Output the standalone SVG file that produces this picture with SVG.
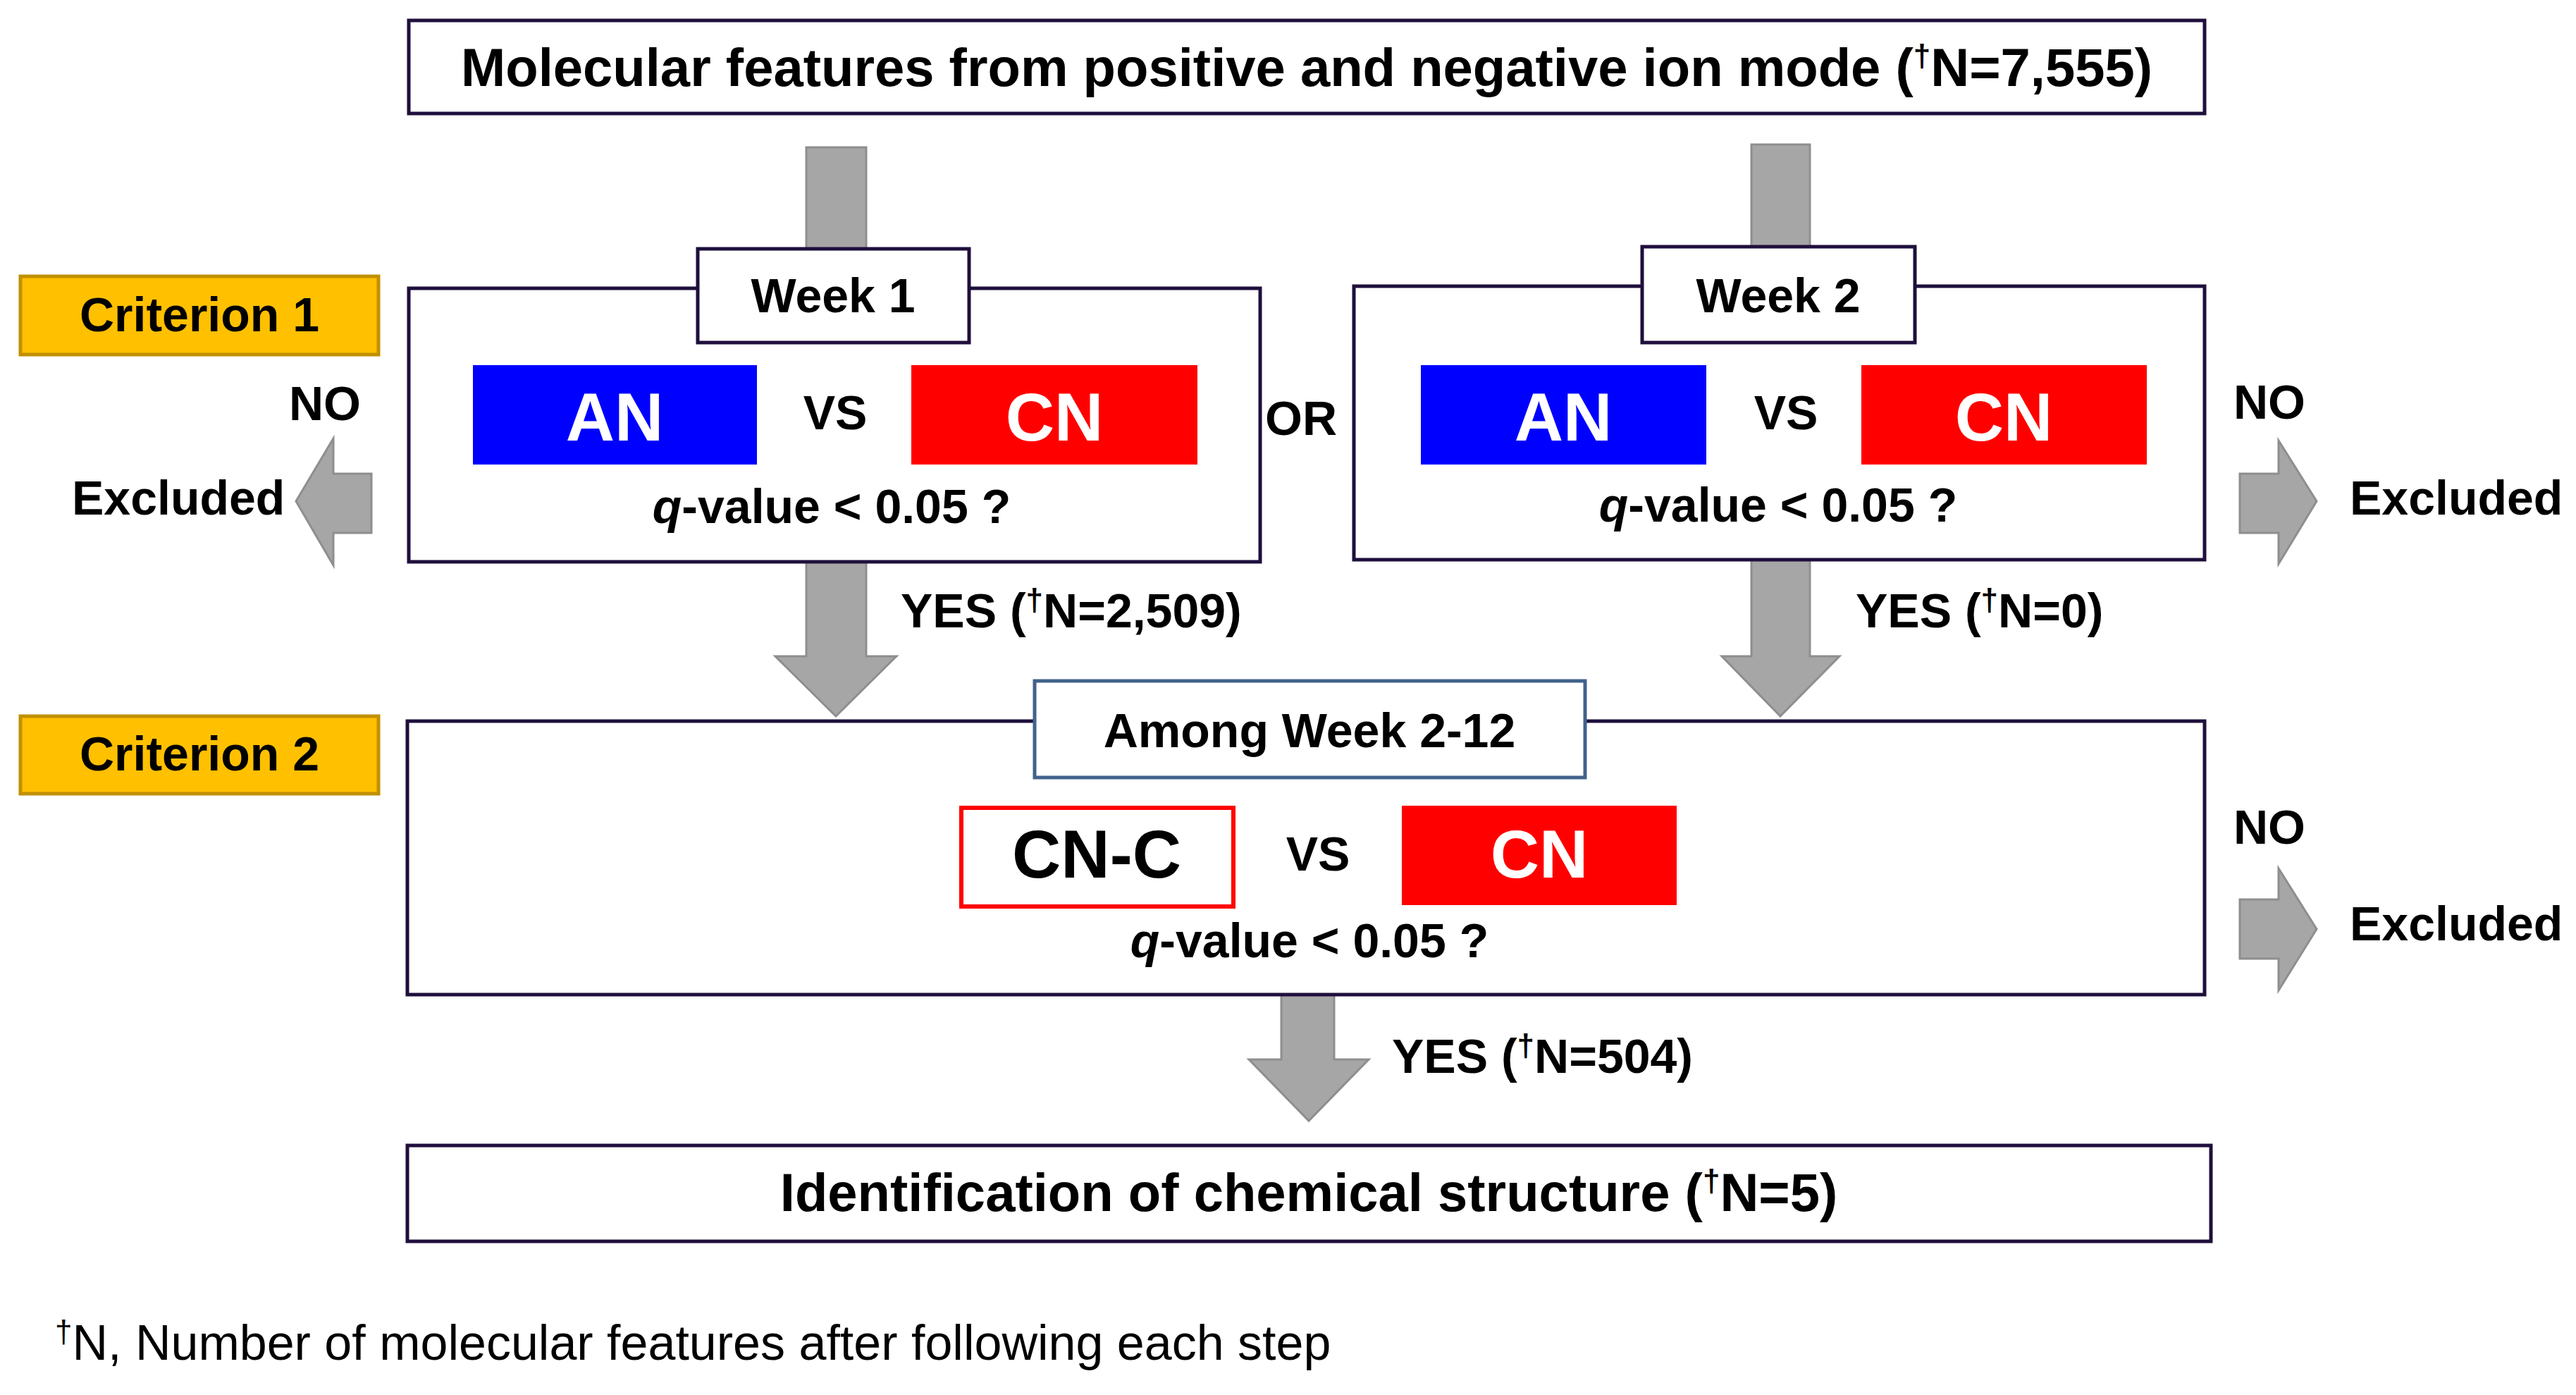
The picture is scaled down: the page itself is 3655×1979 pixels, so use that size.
<svg xmlns="http://www.w3.org/2000/svg" width="3655" height="1979" viewBox="0 0 3655 1979">
<style>
text{font-family:"Liberation Sans",Arial,sans-serif;font-weight:bold;fill:#000}
.box{fill:#fff;stroke:#1e0f3c;stroke-width:5}
.crit{fill:#FFC000;stroke:#C09000;stroke-width:5}
.arr{fill:#A6A6A6;stroke:#8E8E8E;stroke-width:3}
.t76{font-size:76px}
.t68{font-size:68px}
.big{font-size:96px}
.mid{text-anchor:middle}
.w{fill:#fff}
.sup{font-size:44px}
text.norm,text.norm tspan{font-weight:normal}
</style>
<rect width="3655" height="1979" fill="#fff"/>

<g id="connectors">
  <rect class="arr" x="1144" y="209" width="85" height="150"/>
  <rect class="arr" x="2485" y="205" width="83" height="150"/>
  <polygon class="arr" points="1144,790 1229,790 1229,931 1272,931 1186,1016 1100,931 1144,931"/>
  <polygon class="arr" points="2485,790 2568,790 2568,931 2610,931 2526,1016 2443,931 2485,931"/>
  <polygon class="arr" points="1818,1405 1893,1405 1893,1503 1942,1503 1857,1590 1772,1503 1818,1503"/>
  <polygon class="arr" points="527,672 473,672 473,622 420,711 473,802 473,756 527,756"/>
  <polygon class="arr" points="3178,672 3233,672 3233,625 3287,711 3233,800 3233,756 3178,756"/>
  <polygon class="arr" points="3178,1276 3233,1276 3233,1232 3287,1318 3233,1405 3233,1360 3178,1360"/>
  <text class="t68" x="1278" y="890">YES (<tspan class="sup" dy="-24">†</tspan><tspan dy="24">N=2,509)</tspan></text>
  <text class="t68" x="2633" y="890">YES (<tspan class="sup" dy="-24">†</tspan><tspan dy="24">N=0)</tspan></text>
  <text class="t68" x="1975" y="1522">YES (<tspan class="sup" dy="-24">†</tspan><tspan dy="24">N=504)</tspan></text>
  <text class="t68" x="410" y="596">NO</text>
  <text class="t68" x="102" y="730">Excluded</text>
  <text class="t68" x="3169" y="594">NO</text>
  <text class="t68" x="3334" y="730">Excluded</text>
  <text class="t68" x="3169" y="1197">NO</text>
  <text class="t68" x="3334" y="1334">Excluded</text>
  <text class="t68" x="1795" y="617">OR</text>
</g>

<g id="top">
  <rect class="box" x="580" y="29" width="2548" height="132"/>
  <text class="t76 mid" x="1854" y="122">Molecular features from positive and negative ion mode (<tspan class="sup" dy="-28">†</tspan><tspan dy="28">N=7,555)</tspan></text>
</g>

<g id="criterion1">
  <rect class="crit" x="29" y="392" width="508" height="111"/>
  <text class="t68 mid" x="283" y="470">Criterion 1</text>
</g>

<g id="week1">
  <rect class="box" x="580" y="409" width="1208" height="388"/>
  <rect class="box" x="990" y="353" width="385" height="133"/>
  <text class="t68 mid" x="1182" y="443">Week 1</text>
  <rect x="671" y="518" width="403" height="141" fill="#0000FF"/>
  <text class="big mid w" x="872" y="625">AN</text>
  <text class="t68 mid" x="1185" y="609">VS</text>
  <rect x="1293" y="518" width="406" height="141" fill="#FF0000"/>
  <text class="big mid w" x="1496" y="625">CN</text>
  <text class="t68 mid" x="1180" y="742"><tspan font-style="italic">q</tspan>-value &lt; 0.05 ?</text>
</g>

<g id="week2">
  <rect class="box" x="1921" y="406" width="1207" height="388"/>
  <rect class="box" x="2330" y="350" width="387" height="136"/>
  <text class="t68 mid" x="2523" y="443">Week 2</text>
  <rect x="2016" y="518" width="405" height="141" fill="#0000FF"/>
  <text class="big mid w" x="2218" y="625">AN</text>
  <text class="t68 mid" x="2534" y="609">VS</text>
  <rect x="2641" y="518" width="405" height="141" fill="#FF0000"/>
  <text class="big mid w" x="2843" y="625">CN</text>
  <text class="t68 mid" x="2523" y="740"><tspan font-style="italic">q</tspan>-value &lt; 0.05 ?</text>
</g>

<g id="criterion2">
  <rect class="crit" x="29" y="1016" width="508" height="110"/>
  <text class="t68 mid" x="283" y="1093">Criterion 2</text>
</g>

<g id="among">
  <rect class="box" x="578" y="1023" width="2550" height="388"/>
  <rect x="1468" y="966" width="781" height="137" fill="#fff" stroke="#41628C" stroke-width="5"/>
  <text class="t68 mid" x="1858" y="1060">Among Week 2-12</text>
  <rect x="1364" y="1146" width="386" height="140" fill="#fff" stroke="#FF0000" stroke-width="6"/>
  <text class="big mid" x="1556" y="1245">CN-C</text>
  <text class="t68 mid" x="1870" y="1235">VS</text>
  <rect x="1989" y="1143" width="390" height="141" fill="#FF0000"/>
  <text class="big mid w" x="2184" y="1245">CN</text>
  <text class="t68 mid" x="1858" y="1358"><tspan font-style="italic">q</tspan>-value &lt; 0.05 ?</text>
</g>

<g id="identification">
  <rect class="box" x="578" y="1625" width="2559" height="136"/>
  <text class="t76 mid" x="1857" y="1718">Identification of chemical structure (<tspan class="sup" dy="-28">†</tspan><tspan dy="28">N=5)</tspan></text>
</g>

<g id="footnote">
  <text class="norm" x="78" y="1929" font-size="70"><tspan class="sup" dy="-25">†</tspan><tspan dy="25">N, Number of molecular features after following each step</tspan></text>
</g>
</svg>
